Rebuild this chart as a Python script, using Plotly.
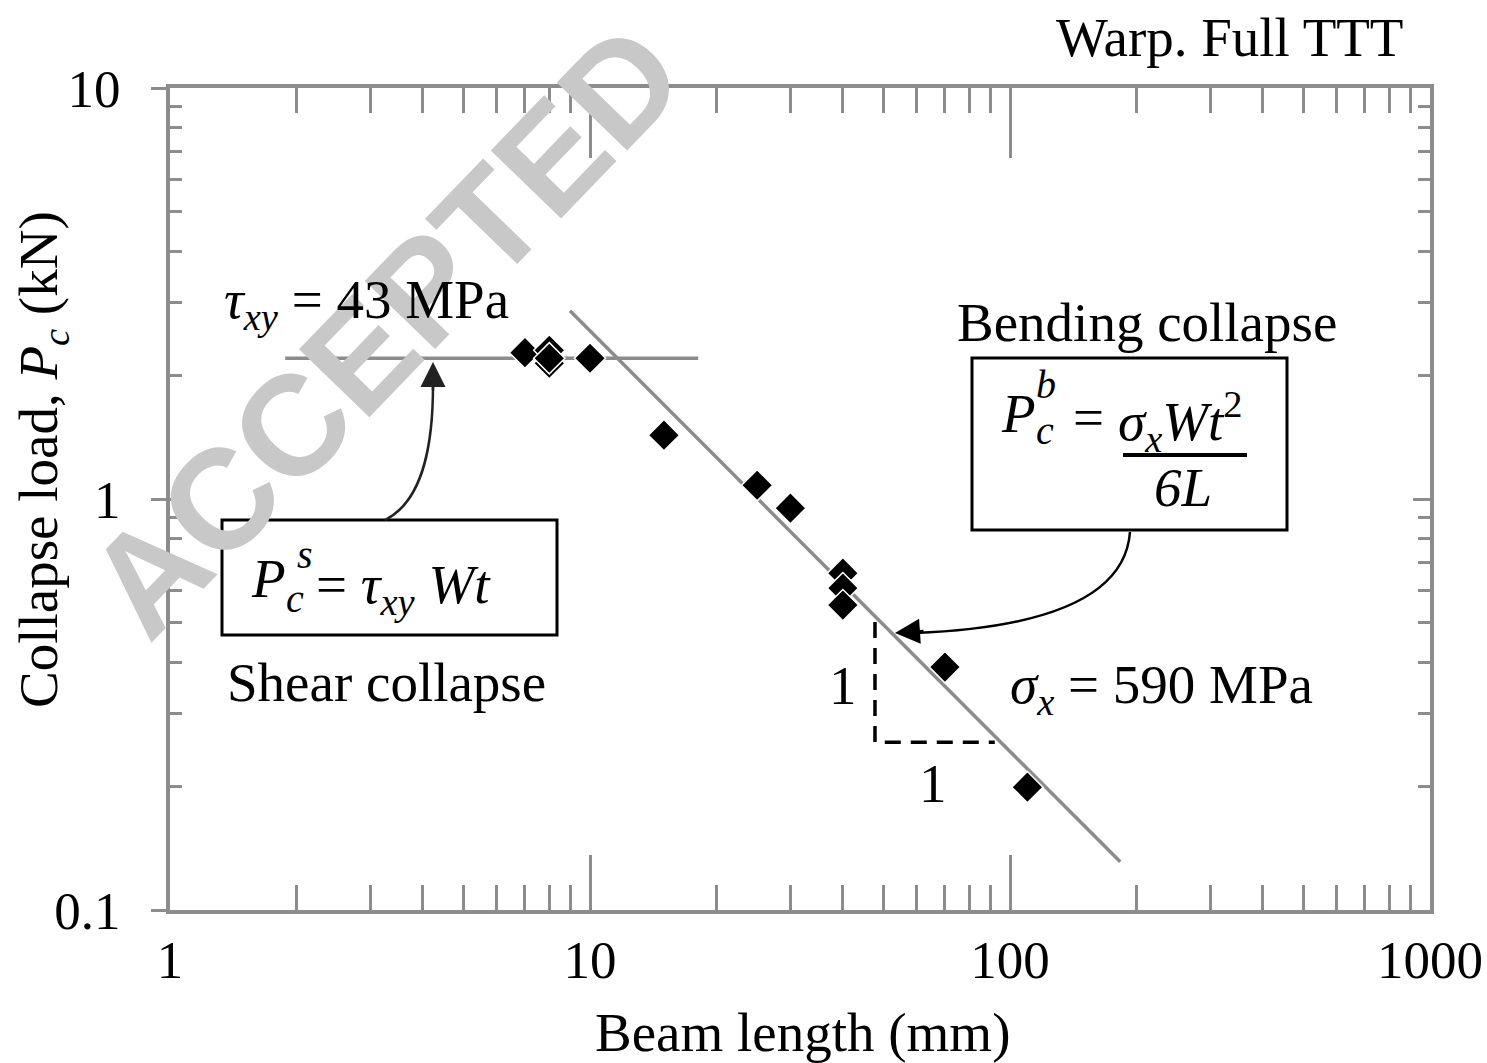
import plotly.graph_objects as go

# ---------------- data ----------------
beam_length = [7, 8, 8, 8, 10, 15, 25, 30, 40, 40, 40, 70, 110]          # mm
collapse_load = [2.27, 2.30, 2.14, 2.20, 2.20, 1.43, 1.08, 0.95, 0.66, 0.607, 0.552, 0.39, 0.199]  # kN

shear_x = [1.88, 18.1]
shear_y = [2.2, 2.2]

bend_x = [8.96, 183]
bend_y = [2.87, 0.131]

tri_x = [47.7, 47.7, 92]
tri_y = [0.502, 0.256, 0.256]

x_ticks = [1, 10, 100, 1000]
x_ticktext = ["1", "10", "100", "1000"]
y_ticks = [0.1, 1, 10]
y_ticktext = ["0.1", "1", "10"]

# ---------------- style ----------------
W, H = 1487, 1063
L, R, T, B = 170, 1430, 88, 910      # plot area in screen pixels
GRAY = "#8c8c8c"
SERIF = "Liberation Serif"
FS = 55


def X(px):
    return (px - L) / (R - L)


def Y(py):
    return (B - py) / (B - T)


x_minor = [m * 10 ** e for e in range(0, 3) for m in range(2, 10)]
y_minor = [m * 10.0 ** e for e in (-1, 0) for m in range(2, 10)]

fig = go.Figure()

fig.add_trace(go.Scatter(x=shear_x, y=shear_y, mode="lines",
                         line=dict(color=GRAY, width=3.5), showlegend=False, hoverinfo="skip"))
fig.add_trace(go.Scatter(x=bend_x, y=bend_y, mode="lines",
                         line=dict(color=GRAY, width=3.5), showlegend=False, hoverinfo="skip"))
fig.add_trace(go.Scatter(x=tri_x, y=tri_y, mode="lines",
                         line=dict(color="black", width=3.5, dash="16px,10px"),
                         showlegend=False, hoverinfo="skip"))
fig.add_trace(go.Scatter(x=beam_length, y=collapse_load, mode="markers",
                         marker=dict(symbol="diamond", size=24, color="black",
                                     line=dict(color="white", width=1.5)),
                         showlegend=False))
# dummy traces for mirror axes
fig.add_trace(go.Scatter(x=[None], y=[None], xaxis="x2", yaxis="y2", showlegend=False, hoverinfo="skip"))
fig.add_trace(go.Scatter(x=[None], y=[None], xaxis="x", yaxis="y3", showlegend=False, hoverinfo="skip"))

tickfont = dict(family=SERIF, size=53, color="black")

fig.update_layout(
    width=W, height=H,
    margin=dict(l=L, r=W - R, t=T, b=H - B),
    paper_bgcolor="white", plot_bgcolor="white",
    xaxis=dict(type="log", range=[0, 3], tickmode="array", tickvals=x_ticks, ticktext=x_ticktext,
               ticks="inside", ticklen=55, tickwidth=3, tickcolor=GRAY, automargin=False,
               showline=True, linecolor=GRAY, linewidth=4, showgrid=False, zeroline=False,
               tickfont=tickfont, ticklabelstandoff=0, ticklabeloverflow="allow",
               minor=dict(tickmode="array", tickvals=x_minor, ticks="inside", ticklen=25,
                          tickwidth=3, tickcolor=GRAY, showgrid=False)),
    xaxis2=dict(type="log", range=[0, 3], overlaying="x", side="top", anchor="y", automargin=False,
                tickmode="array", tickvals=[10, 100], ticks="inside", ticklen=70, tickwidth=3,
                tickcolor=GRAY, showticklabels=False, showline=True, linecolor=GRAY, linewidth=4,
                showgrid=False, zeroline=False,
                minor=dict(tickmode="array", tickvals=x_minor, ticks="inside", ticklen=25,
                           tickwidth=3, tickcolor=GRAY, showgrid=False)),
    yaxis=dict(type="log", range=[-1, 1], tickmode="array", tickvals=y_ticks, ticktext=y_ticktext,
               ticks="outside", ticklen=15, tickwidth=3, tickcolor=GRAY, automargin=False,
               showline=True, linecolor=GRAY, linewidth=4, showgrid=False, zeroline=False,
               tickfont=tickfont, ticklabelstandoff=20, ticklabeloverflow="allow",
               minor=dict(tickmode="array", tickvals=y_minor, ticks="inside", ticklen=12,
                          tickwidth=3, tickcolor=GRAY, showgrid=False)),
    yaxis2=dict(type="log", range=[-1, 1], overlaying="y", side="right", anchor="x", automargin=False,
                tickmode="array", tickvals=[1], ticks="inside", ticklen=17, tickwidth=3,
                tickcolor=GRAY, showticklabels=False, showline=True, linecolor=GRAY, linewidth=4,
                showgrid=False, zeroline=False,
                minor=dict(tickmode="array", tickvals=y_minor, ticks="inside", ticklen=12,
                           tickwidth=3, tickcolor=GRAY, showgrid=False)),
    yaxis3=dict(type="log", range=[-1, 1], overlaying="y", side="left", anchor="x", automargin=False,
                tickmode="array", tickvals=[1], ticks="inside", ticklen=12, tickwidth=3,
                tickcolor=GRAY, showticklabels=False, showline=False, showgrid=False, zeroline=False),
)

ann = []
# watermark
ann.append(dict(text="<b>ACCEPTED</b>", x=X(384), y=Y(330), xref="paper", yref="paper",
                xanchor="center", yanchor="middle",
                showarrow=False, textangle=-46,
                font=dict(family="Liberation Sans", size=142, color="#c8c8c8")))


def txt(t, px, py, size=FS, xanchor="center", yanchor="middle", angle=0):
    ann.append(dict(text=t, x=X(px), y=Y(py), xref="paper", yref="paper", showarrow=False,
                    xanchor=xanchor, yanchor=yanchor, textangle=angle,
                    font=dict(family=SERIF, size=size, color="black")))


txt("Warp. Full TTT", 1405, 38, xanchor="right")
txt("Beam length (mm)", 802, 1032)
txt("Collapse load, <i>P<sub>c</sub></i> (kN)", 42, 460, angle=-90)

txt("<i>τ<sub>xy</sub></i> = 43 MPa", 222, 303, xanchor="left")
txt("Bending collapse", 955, 322, xanchor="left")
txt("Shear collapse", 225, 682, xanchor="left")
txt("<i>σ<sub>x</sub></i> = 590 MPa", 1008, 688, xanchor="left")
txt("1", 843, 685)
txt("1", 933, 783)

# shear formula
txt("<i>P</i>", 268, 578)
txt("<i>s</i>", 305, 554, size=40)
txt("<i>c</i>", 295, 598, size=40)
txt("= <i>τ<sub>xy</sub> Wt</i>", 314, 588, xanchor="left")

# bending formula
txt("<i>P</i>", 1018, 414)
txt("<i>b</i>", 1046, 384, size=40)
txt("<i>c</i>", 1045, 430, size=40)
txt("=", 1088, 418)
txt("<i>σ<sub>x</sub>Wt</i><sup>2</sup>", 1116, 422, xanchor="left")
txt("<i>6L</i>", 1183, 487)

# arrowheads
ann.append(dict(x=X(433), y=Y(362), xref="paper", yref="paper", ax=0, ay=30, text="",
                showarrow=True, arrowhead=2, arrowsize=2, arrowwidth=2.5, arrowcolor="#222"))
ann.append(dict(x=X(895), y=Y(633), xref="paper", yref="paper", ax=30, ay=-2, text="",
                showarrow=True, arrowhead=2, arrowsize=2, arrowwidth=2.5, arrowcolor="black"))

fig.update_layout(annotations=ann)


def path(pts):
    (x0, y0), rest = pts[0], pts[1:]
    return f"M {X(x0)},{Y(y0)} C " + " ".join(f"{X(a)},{Y(b)}" for a, b in rest)


shapes = [
    dict(type="rect", xref="paper", yref="paper", x0=X(222), x1=X(557), y0=Y(520), y1=Y(635),
         line=dict(color="black", width=3), fillcolor="rgba(0,0,0,0)"),
    dict(type="rect", xref="paper", yref="paper", x0=X(972), x1=X(1287), y0=Y(358), y1=Y(530),
         line=dict(color="black", width=3), fillcolor="rgba(0,0,0,0)"),
    dict(type="line", xref="paper", yref="paper", x0=X(1123), x1=X(1247), y0=Y(455), y1=Y(455),
         line=dict(color="black", width=4)),
    dict(type="path", xref="paper", yref="paper",
         path=path([(385, 520), (425, 500), (433, 440), (433, 385)]),
         line=dict(color="#222", width=2.5)),
    dict(type="path", xref="paper", yref="paper",
         path=path([(1130, 532), (1125, 600), (1040, 628), (915, 633)]),
         line=dict(color="black", width=2.5)),
]
fig.update_layout(shapes=shapes)

fig.write_html("out.html", config={"displayModeBar": False},
               post_script="document.body.style.margin='0';document.body.style.overflow='hidden';")
